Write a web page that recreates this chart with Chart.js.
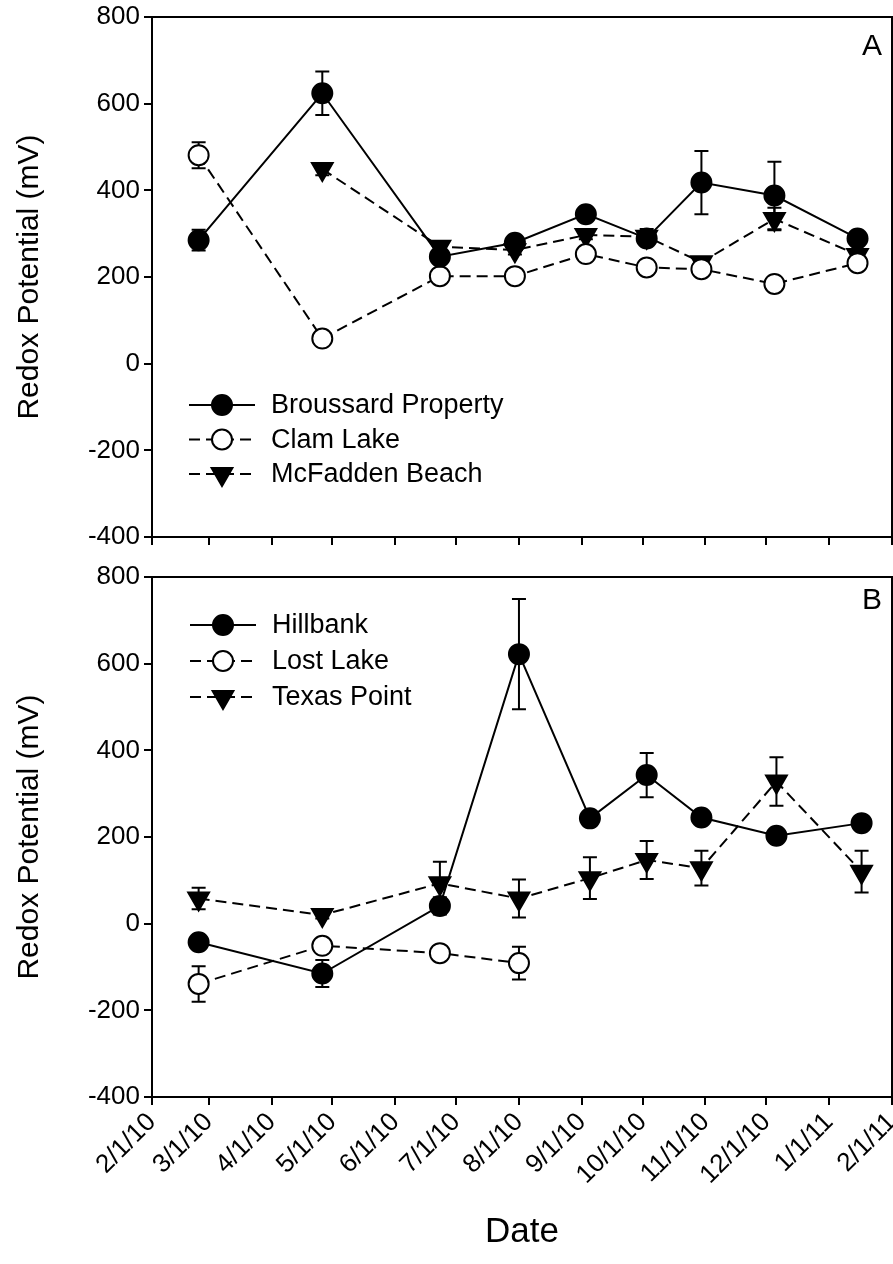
<!DOCTYPE html>
<html>
<head>
<meta charset="utf-8">
<script src="https://cdn.jsdelivr.net/npm/chart.js@4.4.1/dist/chart.umd.min.js"></script>
<style>
  body { margin: 0; background: #fff; }
  canvas { display: block; }
</style>
</head>
<body>
<canvas id="panelA" width="893" height="557"></canvas>
<canvas id="panelB" width="893" height="707"></canvas>
<script>
// month ticks on the date axis
const monthTicks = ['2/1/10','3/1/10','4/1/10','5/1/10','6/1/10','7/1/10','8/1/10',
  '9/1/10','10/1/10','11/1/10','12/1/10','1/1/11','2/1/11'];

// panel A sampling dates and site means (+/- SE)
const datesA = ['2/24/10','4/26/10','6/23/10','7/30/10','9/3/10','10/3/10','10/30/10','12/5/10','1/15/11'];
const broussard    = [285, 624, 247, 279, 345, 289, 418, 388, 289];
const broussardErr = [24, 50, 12, 12, 10, 14, 73, 78, 12];
const clamLake     = [481, 58, 202, 202, 253, 222, 218, 184, 232];
const clamLakeErr  = [30, 8, 8, 8, 8, 16, 8, 16, 10];
const mcfadden     = [null, 449, 270, 262, 297, 293, 234, 334, 251];
const mcfaddenErr  = [null, 14, 10, 10, 10, 18, 10, 26, 10];

// panel B
const datesB = ['2/24/10','4/26/10','6/23/10','8/1/10','9/5/10','10/3/10','10/30/10','12/6/10','1/17/11'];
const hillbank      = [-43, -115, 41, 622, 243, 343, 245, 203, 232];
const hillbankErr   = [8, 31, 20, 127, 8, 51, 8, 8, 8];
const lostLake      = [-139, -51, -68, -91];
const lostLakeErr   = [41, 10, 8, 38];
const texasPoint    = [58, 20, 93, 58, 105, 147, 128, 328, 120];
const texasPointErr = [25, 8, 50, 44, 48, 44, 40, 56, 48];

const FONT = "'Liberation Sans', Arial, sans-serif";
Chart.defaults.font.family = FONT;
Chart.defaults.color = '#000';

const base = Date.UTC(2010, 1, 1);
function dayOf(s) {
  const [m, d, y] = s.split('/').map(Number);
  return (Date.UTC(2000 + y, m - 1, d) - base) / 86400000;
}
const tickDays = monthTicks.map(dayOf);

function series(label, dates, vals, errs, style) {
  return Object.assign({
    label: label,
    data: vals.map((v, i) => ({ x: dayOf(dates[i]), y: v })),
    errors: errs,
    borderColor: '#000',
    borderWidth: 2,
    pointBorderColor: '#000',
    pointBorderWidth: 2,
    tension: 0,
    clip: false
  }, style);
}
const solidDot = { borderDash: [], pointStyle: 'circle', pointRadius: 10, pointBackgroundColor: '#000' };
const openDot  = { borderDash: [11, 6], pointStyle: 'circle', pointRadius: 10, pointBackgroundColor: '#fff' };
const downTri  = { borderDash: [11, 6], pointStyle: 'triangle', pointRotation: 180, pointRadius: 12, pointBackgroundColor: '#000' };

// vertical error bars with caps, under the markers
const errorBars = {
  id: 'errorBars',
  beforeDatasetsDraw(chart) {
    const ctx = chart.ctx, ys = chart.scales.y;
    ctx.save();
    ctx.strokeStyle = '#000';
    ctx.lineWidth = 2;
    chart.data.datasets.forEach((ds, di) => {
      const meta = chart.getDatasetMeta(di);
      meta.data.forEach((pt, i) => {
        const v = ds.data[i].y, e = ds.errors[i];
        if (v == null || e == null) return;
        const top = ys.getPixelForValue(v + e), bot = ys.getPixelForValue(v - e);
        ctx.beginPath();
        ctx.moveTo(pt.x, top); ctx.lineTo(pt.x, bot);
        ctx.moveTo(pt.x - 7, top); ctx.lineTo(pt.x + 7, top);
        ctx.moveTo(pt.x - 7, bot); ctx.lineTo(pt.x + 7, bot);
        ctx.stroke();
      });
    });
    ctx.restore();
  }
};

// box around plot, legend inside plot, panel letter
const panelDeco = {
  id: 'panelDeco',
  afterDraw(chart, args, opts) {
    const ctx = chart.ctx, a = chart.chartArea;
    ctx.save();
    ctx.strokeStyle = '#000';
    ctx.lineWidth = 2;
    ctx.strokeRect(a.left, a.top, a.right - a.left, a.bottom - a.top);

    chart.data.datasets.forEach((ds, i) => {
      const yy = opts.top + i * opts.row;
      ctx.setLineDash(ds.borderDash || []);
      ctx.lineWidth = 2;
      ctx.beginPath();
      ctx.moveTo(opts.left, yy);
      ctx.lineTo(opts.left + 66, yy);
      ctx.stroke();
      ctx.setLineDash([]);
      ctx.fillStyle = ds.pointBackgroundColor;
      Chart.helpers.drawPoint(ctx, {
        pointStyle: ds.pointStyle, rotation: ds.pointRotation || 0,
        radius: ds.pointRadius, borderWidth: 2
      }, opts.left + 33, yy);
      ctx.fillStyle = '#000';
      ctx.font = '27px ' + FONT;
      ctx.textAlign = 'left';
      ctx.textBaseline = 'middle';
      ctx.fillText(ds.label, opts.left + 82, yy + 1);
    });

    ctx.font = '30px ' + FONT;
    ctx.textAlign = 'right';
    ctx.textBaseline = 'middle';
    ctx.fillText(opts.tag, a.right - 10, a.top + opts.tagY);
    ctx.restore();
  }
};

function makeOptions(withDates, xHeight, padTop, deco) {
  return {
    responsive: false,
    animation: false,
    layout: { autoPadding: false, padding: { top: padTop, right: 1, left: 0, bottom: 0 } },
    plugins: {
      legend: { display: false },
      tooltip: { enabled: false },
      panelDeco: deco
    },
    scales: {
      x: {
        type: 'linear',
        min: 0,
        max: tickDays[tickDays.length - 1],
        afterBuildTicks: s => { s.ticks = tickDays.map(v => ({ value: v })); },
        afterFit: s => { s.height = xHeight; s.paddingLeft = 0; s.paddingRight = 0; },
        ticks: {
          display: withDates,
          autoSkip: false,
          minRotation: 45,
          maxRotation: 45,
          padding: 2,
          font: { size: 26 },
          callback: (v, i) => monthTicks[i]
        },
        grid: { drawOnChartArea: false, tickLength: 8, color: '#000', lineWidth: 2 },
        border: { color: '#000', width: 2 },
        title: {
          display: withDates,
          text: 'Date',
          font: { size: 35 },
          padding: { top: 0, bottom: 11 }
        }
      },
      y: {
        min: -400,
        max: 800,
        afterFit: s => { s.width = 152; s.paddingTop = 0; s.paddingBottom = 0; },
        ticks: { stepSize: 200, padding: 4, font: { size: 26 } },
        grid: { drawOnChartArea: false, tickLength: 8, color: '#000', lineWidth: 2 },
        border: { color: '#000', width: 2 },
        title: {
          display: true,
          text: 'Redox Potential (mV)',
          font: { size: 30 },
          padding: { top: 12, bottom: 0 }
        }
      }
    }
  };
}

new Chart(document.getElementById('panelA'), {
  type: 'line',
  data: {
    datasets: [
      series('Broussard Property', datesA, broussard, broussardErr, solidDot),
      series('Clam Lake', datesA, clamLake, clamLakeErr, openDot),
      series('McFadden Beach', datesA, mcfadden, mcfaddenErr, downTri)
    ]
  },
  options: makeOptions(false, 20, 17, { left: 189, top: 405, row: 34.5, tag: 'A', tagY: 30 }),
  plugins: [errorBars, panelDeco]
});

new Chart(document.getElementById('panelB'), {
  type: 'line',
  data: {
    datasets: [
      series('Hillbank', datesB, hillbank, hillbankErr, solidDot),
      series('Lost Lake', datesB, lostLake, lostLakeErr, openDot),
      series('Texas Point', datesB, texasPoint, texasPointErr, downTri)
    ]
  },
  options: makeOptions(true, 167, 20, { left: 190, top: 68, row: 36, tag: 'B', tagY: 24 }),
  plugins: [errorBars, panelDeco]
});
</script>
</body>
</html>
